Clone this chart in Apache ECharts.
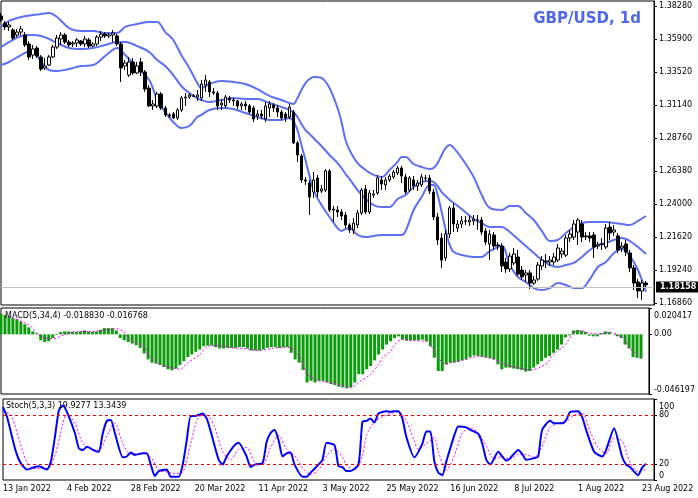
<!DOCTYPE html>
<html>
<head>
<meta charset="utf-8">
<script src="https://cdn.jsdelivr.net/npm/echarts@6/dist/echarts.min.js"></script>
<style>
html,body{margin:0;padding:0;background:#fff;}
#chart{width:698px;height:498px;}
</style>
</head>
<body>
<div id="chart"></div>
<script>
// ---------- DATA ----------
const tickLabels = ['13 Jan 2022','4 Feb 2022','28 Feb 2022','20 Mar 2022','11 Apr 2022','3 May 2022','25 May 2022','16 Jun 2022','8 Jul 2022','1 Aug 2022','23 Aug 2022'];
const priceTicks = [1.16860,1.19240,1.21620,1.24000,1.26380,1.28760,1.31140,1.33520,1.35900,1.38280];
const lastPrice = 1.18158;
const macdTicks = [-0.046197, 0, 0.020417];
const stochTicks = [0, 20, 80, 100];
const stochLevels = [20, 80];

const opens = [
1.3756,1.3705,1.3677,1.3655,1.3619,1.3640,1.3619,1.3554,1.3474,1.3525,
1.3460,1.3381,1.3402,1.3460,1.3532,1.3590,1.3619,1.3568,1.3554,1.3561,
1.3575,1.3554,1.3583,1.3539,1.3554,1.3604,1.3626,1.3612,1.3619,1.3612,
1.3554,1.3395,1.3330,1.3424,1.3345,1.3424,1.3352,1.3236,1.3107,1.3107,
1.3193,1.3092,1.3042,1.3049,1.3020,1.3078,1.3164,1.3171,1.3179,1.3171,
1.3164,1.3258,1.3280,1.3208,1.3200,1.3114,1.3107,1.3164,1.3150,1.3143,
1.3107,1.3121,1.3107,1.3092,1.3034,1.3049,1.3013,1.3092,1.3114,1.3092,
1.3063,1.3049,1.3027,1.3063,1.2840,1.2746,1.2573,1.2551,1.2486,1.2587,
1.2493,1.2500,1.2638,1.2356,1.2356,1.2342,1.2320,1.2248,1.2212,1.2248,
1.2335,1.2508,1.2342,1.2464,1.2479,1.2573,1.2537,1.2573,1.2594,1.2623,
1.2659,1.2594,1.2500,1.2573,1.2529,1.2537,1.2587,1.2587,1.2486,1.2306,
1.2154,1.2010,1.2183,1.2371,1.2226,1.2255,1.2277,1.2270,1.2277,1.2284,
1.2284,1.2205,1.2111,1.2176,1.2104,1.2096,1.1981,1.1931,1.1974,1.2017,
1.1923,1.1887,1.1902,1.1829,1.1858,1.1952,1.1988,1.1981,1.1981,1.1995,
1.2039,1.2031,1.2154,1.2161,1.2197,1.2255,1.2169,1.2169,1.2176,1.2096,
1.2111,1.2089,1.2233,1.2197,1.2169,1.2082,1.2111,1.2046,1.1938,1.1837,
1.1772,1.1829];
const closes = [
1.3727,1.3677,1.3691,1.3597,1.3640,1.3662,1.3547,1.3460,1.3518,1.3467,
1.3373,1.3395,1.3460,1.3532,1.3597,1.3619,1.3568,1.3547,1.3561,1.3583,
1.3554,1.3590,1.3539,1.3554,1.3604,1.3626,1.3612,1.3619,1.3633,1.3554,
1.3381,1.3417,1.3424,1.3345,1.3395,1.3352,1.3229,1.3107,1.3121,1.3193,
1.3092,1.3042,1.3034,1.3020,1.3078,1.3164,1.3171,1.3186,1.3177,1.3186,
1.3265,1.3294,1.3208,1.3200,1.3107,1.3128,1.3171,1.3150,1.3143,1.3107,
1.3121,1.3107,1.3063,1.3013,1.3049,1.3034,1.3107,1.3121,1.3092,1.3063,
1.3020,1.3020,1.3099,1.2840,1.2753,1.2573,1.2565,1.2450,1.2573,1.2486,
1.2508,1.2638,1.2356,1.2363,1.2342,1.2313,1.2248,1.2212,1.2262,1.2335,
1.2500,1.2342,1.2479,1.2472,1.2587,1.2544,1.2573,1.2601,1.2630,1.2659,
1.2601,1.2486,1.2587,1.2529,1.2551,1.2594,1.2585,1.2493,1.2306,1.2140,
1.1995,1.2183,1.2371,1.2255,1.2255,1.2277,1.2275,1.2284,1.2291,1.2282,
1.2197,1.2125,1.2183,1.2096,1.2098,1.1952,1.1931,1.2024,1.2039,1.1894,
1.1873,1.1902,1.1829,1.1851,1.1959,1.1995,1.1981,1.1995,1.2017,1.2082,
1.2060,1.2154,1.2183,1.2255,1.2284,1.2161,1.2163,1.2154,1.2089,1.2104,
1.2106,1.2226,1.2190,1.2212,1.2068,1.2096,1.2053,1.1938,1.1829,1.1772,
1.1829,1.18158];
const highs = [
1.3778,1.3720,1.3713,1.3669,1.3662,1.3684,1.3640,1.3575,1.3547,1.3539,
1.3474,1.3453,1.3474,1.3547,1.3619,1.3640,1.3633,1.3583,1.3575,1.3597,
1.3583,1.3612,1.3597,1.3568,1.3619,1.3648,1.3640,1.3633,1.3655,1.3626,
1.3568,1.3438,1.3460,1.3453,1.3424,1.3453,1.3366,1.3258,1.3150,1.3208,
1.3208,1.3107,1.3056,1.3063,1.3092,1.3179,1.3200,1.3200,1.3193,1.3222,
1.3294,1.3330,1.3294,1.3236,1.3215,1.3157,1.3186,1.3179,1.3164,1.3150,
1.3135,1.3143,1.3121,1.3107,1.3078,1.3078,1.3135,1.3143,1.3128,1.3114,
1.3078,1.3063,1.3121,1.3078,1.2854,1.2760,1.2594,1.2573,1.2630,1.2609,
1.2537,1.2652,1.2652,1.2385,1.2385,1.2363,1.2342,1.2262,1.2298,1.2356,
1.2515,1.2537,1.2500,1.2500,1.2609,1.2601,1.2594,1.2616,1.2645,1.2674,
1.2674,1.2616,1.2601,1.2601,1.2573,1.2616,1.2609,1.2609,1.2508,1.2335,
1.2190,1.2212,1.2385,1.2407,1.2284,1.2313,1.2313,1.2313,1.2320,1.2320,
1.2306,1.2226,1.2212,1.2197,1.2125,1.2118,1.2010,1.2046,1.2082,1.2068,
1.1952,1.1923,1.1923,1.1880,1.1981,1.2024,1.2039,1.2024,1.2046,1.2111,
1.2082,1.2176,1.2212,1.2284,1.2298,1.2284,1.2197,1.2197,1.2197,1.2125,
1.2154,1.2255,1.2270,1.2248,1.2190,1.2125,1.2140,1.2068,1.1959,1.1858,
1.1851,1.1844];
const lows = [
1.3713,1.3655,1.3648,1.3583,1.3604,1.3619,1.3532,1.3438,1.3446,1.3453,
1.3359,1.3366,1.3395,1.3453,1.3518,1.3547,1.3554,1.3532,1.3532,1.3532,
1.3539,1.3532,1.3525,1.3532,1.3539,1.3575,1.3597,1.3597,1.3568,1.3539,
1.3280,1.3366,1.3316,1.3330,1.3337,1.3323,1.3208,1.3099,1.3078,1.3092,
1.3078,1.3027,1.3020,1.3013,1.3006,1.3063,1.3107,1.3157,1.3171,1.3143,
1.3143,1.3208,1.3171,1.3186,1.3078,1.3078,1.3092,1.3128,1.3107,1.3085,
1.3078,1.3078,1.3049,1.2991,1.3006,1.3013,1.2991,1.3027,1.3063,1.3027,
1.3006,1.2991,1.3013,1.2832,1.2703,1.2551,1.2537,1.2320,1.2443,1.2450,
1.2479,1.2486,1.2342,1.2270,1.2306,1.2284,1.2226,1.2190,1.2183,1.2226,
1.2320,1.2327,1.2327,1.2443,1.2464,1.2500,1.2500,1.2558,1.2580,1.2609,
1.2551,1.2472,1.2486,1.2500,1.2493,1.2522,1.2565,1.2472,1.2284,1.2104,
1.1938,1.1988,1.2154,1.2197,1.2197,1.2226,1.2248,1.2241,1.2248,1.2212,
1.2176,1.2104,1.1995,1.2068,1.2068,1.1909,1.1902,1.1909,1.1959,1.1880,
1.1851,1.1837,1.1786,1.1815,1.1844,1.1923,1.1938,1.1952,1.1959,1.1981,
1.2010,1.2017,1.2125,1.2140,1.2104,1.2125,1.2140,1.2125,1.2010,1.2075,
1.2068,1.2075,1.2140,1.2169,1.2046,1.2053,1.2024,1.1909,1.1779,1.1721,
1.1707,1.1801];

// Bollinger bands, read at sampled bars: [bar index, price]
const bbUpper = [[0,1.3677],[2,1.3720],[5,1.3749],[8,1.3763],[10,1.3770],[12,1.3778],[14,1.3749],[17,1.3669],[20,1.3648],[23,1.3648],[26,1.3633],[29,1.3633],[31,1.3677],[34,1.3698],[37,1.3713],[39,1.3713],[41,1.3640],[43,1.3583],[45,1.3474],[47,1.3381],[49,1.3272],[50,1.3236],[52,1.3265],[55,1.3287],[58,1.3280],[61,1.3265],[64,1.3229],[67,1.3179],[70,1.3150],[72,1.3128],[73,1.3121],[74,1.3164],[75,1.3222],[76,1.3272],[77,1.3301],[78,1.3316],[80,1.3309],[82,1.3236],[84,1.3092],[85,1.2991],[86,1.2861],[87,1.2789],[89,1.2695],[91,1.2645],[93,1.2609],[95,1.2594],[97,1.2645],[99,1.2703],[100,1.2739],[101,1.2739],[103,1.2688],[105,1.2666],[107,1.2652],[108,1.2659],[109,1.2695],[110,1.2753],[111,1.2804],[112,1.2825],[113,1.2804],[115,1.2731],[118,1.2594],[120,1.2464],[122,1.2371],[125,1.2356],[127,1.2385],[129,1.2385],[131,1.2335],[133,1.2284],[135,1.2205],[137,1.2132],[139,1.2140],[141,1.2190],[143,1.2233],[145,1.2262],[147,1.2270],[149,1.2270],[151,1.2270],[153,1.2262],[155,1.2255],[157,1.2248],[159,1.2277],[161,1.2313]];
const bbMiddle = [[0,1.3532],[2,1.3568],[5,1.3612],[8,1.3619],[10,1.3612],[12,1.3590],[14,1.3561],[17,1.3525],[20,1.3518],[23,1.3525],[26,1.3547],[29,1.3568],[31,1.3568],[34,1.3539],[37,1.3496],[39,1.3438],[41,1.3395],[43,1.3330],[45,1.3251],[47,1.3200],[49,1.3164],[50,1.3150],[52,1.3135],[55,1.3150],[58,1.3164],[61,1.3157],[64,1.3157],[67,1.3128],[70,1.3099],[72,1.3078],[73,1.3063],[74,1.3027],[75,1.2977],[76,1.2933],[77,1.2905],[78,1.2876],[80,1.2818],[82,1.2753],[84,1.2695],[85,1.2659],[86,1.2616],[87,1.2580],[89,1.2500],[91,1.2436],[93,1.2392],[95,1.2378],[97,1.2378],[99,1.2436],[100,1.2450],[101,1.2464],[103,1.2522],[105,1.2558],[107,1.2565],[108,1.2558],[109,1.2529],[110,1.2486],[111,1.2457],[112,1.2428],[113,1.2407],[115,1.2363],[118,1.2291],[120,1.2262],[122,1.2233],[125,1.2233],[127,1.2197],[129,1.2147],[131,1.2096],[133,1.2046],[135,1.1995],[137,1.1959],[139,1.1945],[141,1.1959],[143,1.1974],[145,1.2017],[147,1.2068],[149,1.2104],[151,1.2118],[153,1.2140],[155,1.2154],[157,1.2132],[159,1.2089],[161,1.2039]];
const bbLower = [[0,1.3402],[2,1.3424],[5,1.3474],[8,1.3511],[10,1.3424],[12,1.3366],[14,1.3359],[17,1.3373],[20,1.3395],[23,1.3402],[26,1.3467],[29,1.3525],[31,1.3474],[34,1.3381],[37,1.3294],[39,1.3150],[41,1.3063],[43,1.2991],[45,1.2948],[47,1.2962],[49,1.3027],[50,1.3042],[52,1.3078],[55,1.3092],[58,1.3085],[61,1.3056],[64,1.3027],[67,1.3006],[70,1.3006],[72,1.3020],[73,1.2998],[74,1.2933],[75,1.2825],[76,1.2717],[77,1.2601],[78,1.2500],[80,1.2392],[82,1.2306],[84,1.2226],[85,1.2205],[86,1.2219],[87,1.2226],[89,1.2176],[91,1.2161],[93,1.2169],[95,1.2176],[97,1.2176],[99,1.2176],[100,1.2176],[101,1.2205],[103,1.2356],[105,1.2450],[107,1.2537],[108,1.2537],[109,1.2464],[110,1.2342],[111,1.2212],[112,1.2104],[113,1.2053],[115,1.2031],[118,1.2017],[120,1.2017],[122,1.2060],[125,1.2096],[127,1.1959],[129,1.1873],[131,1.1837],[133,1.1793],[135,1.1779],[137,1.1793],[139,1.1829],[141,1.1815],[143,1.1793],[145,1.1793],[147,1.1858],[149,1.1945],[151,1.1981],[153,1.2046],[155,1.2075],[157,1.2024],[159,1.1923],[161,1.1765]];

const macdHist = [
0.01582,0.01506,0.01378,0.01250,0.01174,0.00995,0.00791,0.00536,0.00230,0.00077,
-0.00459,-0.00587,-0.00536,-0.00281,-0.00051,0.00179,0.00230,0.00230,0.00204,0.00179,
0.00230,0.00306,0.00230,0.00204,0.00230,0.00357,0.00485,0.00485,0.00485,0.00306,
-0.00281,-0.00459,-0.00587,-0.00715,-0.00842,-0.01046,-0.01480,-0.01940,-0.02195,-0.02271,
-0.02373,-0.02526,-0.02705,-0.02782,-0.02654,-0.02373,-0.02067,-0.01761,-0.01557,-0.01353,
-0.01174,-0.00919,-0.00868,-0.00868,-0.00995,-0.01097,-0.01097,-0.01046,-0.01046,-0.01046,
-0.00995,-0.00995,-0.01097,-0.01250,-0.01250,-0.01250,-0.01174,-0.01046,-0.00995,-0.00995,
-0.01046,-0.00995,-0.00995,-0.01429,-0.01940,-0.02195,-0.02756,-0.03726,-0.03598,-0.03726,
-0.03598,-0.03598,-0.03726,-0.03854,-0.03930,-0.04058,-0.04109,-0.04185,-0.04109,-0.03726,
-0.03088,-0.03088,-0.02705,-0.02450,-0.02016,-0.01557,-0.01174,-0.00791,-0.00536,-0.00281,
-0.00153,-0.00408,-0.00485,-0.00485,-0.00459,-0.00459,-0.00408,-0.00536,-0.00919,-0.01812,
-0.02833,-0.02833,-0.02322,-0.02195,-0.02195,-0.02144,-0.02016,-0.01940,-0.01761,-0.01633,
-0.01684,-0.01761,-0.01812,-0.01863,-0.01940,-0.02322,-0.02705,-0.02578,-0.02578,-0.02654,
-0.02705,-0.02756,-0.02884,-0.02833,-0.02578,-0.02322,-0.02067,-0.01812,-0.01684,-0.01429,
-0.01174,-0.00791,-0.00230,-0.00077,0.00306,0.00332,0.00281,0.00179,-0.00102,-0.00153,
-0.00153,0.00102,0.00230,0.00179,0.00026,-0.00153,-0.00281,-0.00791,-0.01097,-0.01761,
-0.01812,-0.01883];
const macdSignal = [[1,0.01506],[7,0.00740],[9,0.00102],[11,-0.00281],[13,-0.00332],[16,-0.00026],[18,0.00179],[23,0.00230],[27,0.00357],[29,0.00434],[31,0.00179],[32,-0.00281],[34,-0.00664],[36,-0.00919],[37,-0.01557],[39,-0.02118],[41,-0.02450],[44,-0.02654],[45,-0.02705],[47,-0.02195],[50,-0.01557],[52,-0.00919],[55,-0.00868],[58,-0.01046],[61,-0.01097],[65,-0.01250],[68,-0.01097],[71,-0.00995],[73,-0.01046],[75,-0.01684],[76,-0.02322],[77,-0.03088],[80,-0.03598],[83,-0.03726],[86,-0.03981],[88,-0.04109],[90,-0.03700],[93,-0.03090],[95,-0.02320],[96,-0.01810],[98,-0.01300],[99,-0.00800],[101,-0.00400],[103,-0.00485],[107,-0.00536],[108,-0.00791],[110,-0.01812],[112,-0.02322],[114,-0.02118],[117,-0.01940],[120,-0.01684],[123,-0.01812],[126,-0.02195],[128,-0.02450],[132,-0.02705],[133,-0.02782],[137,-0.02322],[139,-0.01557],[142,-0.00791],[144,0.00102],[146,0.00281],[148,0.00102],[151,0.00026],[153,0.00179],[155,-0.00026],[157,-0.00408],[158,-0.01046],[160,-0.01557],[161,-0.016768]];

const stochMain = [[0,90],[1,78],[3,39],[4,25],[5,17],[6,13],[8,16],[9,17],[11,13],[12,23],[13,53],[14,86],[15,92],[16,84],[18,58],[19,39],[20,37],[21,41],[23,36],[24,35],[25,58],[26,73],[27,74],[28,58],[30,28],[31,29],[32,34],[33,31],[35,33],[36,33],[37,19],[38,5],[39,11],[41,13],[42,4],[44,4],[45,19],[46,49],[47,79],[48,79],[50,82],[51,76],[52,60],[54,25],[55,19],[56,29],[58,43],[59,46],[61,29],[62,16],[63,19],[65,21],[66,47],[67,58],[68,62],[69,49],[70,29],[71,33],[72,34],[73,19],[75,4],[76,4],[77,9],[79,19],[80,25],[81,46],[83,43],[84,17],[85,16],[86,11],[87,11],[89,19],[90,72],[91,73],[92,76],[93,71],[94,82],[96,85],[97,84],[98,85],[99,85],[100,76],[101,53],[103,28],[105,45],[106,60],[107,60],[108,23],[109,9],[110,6],[111,23],[113,55],[114,66],[116,65],[117,62],[119,57],[120,45],[121,25],[122,19],[124,35],[125,29],[126,24],[127,27],[129,37],[130,32],[131,25],[133,27],[134,29],[135,62],[137,73],[138,70],[140,70],[141,74],[142,84],[144,85],[145,78],[146,62],[148,35],[150,29],[151,37],[153,64],[155,29],[156,19],[157,16],[159,6],[160,15],[161,19.9277]];
const stochSignal = [[0,85],[2,80],[4,50],[6,22],[8,14],[11,14],[13,30],[15,70],[16,82],[18,70],[20,45],[22,38],[24,37],[26,55],[28,70],[30,45],[32,32],[35,33],[37,28],[39,12],[41,10],[43,8],[45,10],[47,45],[49,78],[51,80],[53,65],[55,35],[57,25],[59,38],[61,40],[63,22],[65,19],[67,40],[69,55],[71,38],[73,30],[75,15],[77,7],[79,12],[81,30],[83,38],[85,28],[86,18],[88,12],[90,30],[91,55],[93,72],[95,78],[97,82],[99,84],[101,73],[103,48],[104,38],[106,45],[108,52],[109,35],[111,12],[113,30],[115,58],[117,64],[119,58],[121,42],[123,26],[125,29],[127,26],[129,32],[131,31],[133,28],[135,42],[137,65],[139,70],[141,72],[143,80],[145,82],[147,60],[149,40],[151,33],[153,52],[155,48],[157,22],[159,10],[161,13.3439]];

// ---------- CHART ----------
const NCAT = 164; // 162 bars + right shift
const categories = Array.from({length: NCAT}, (_, i) => String(i));
const FONT = 'DejaVu Sans';
const bandColor = '#5b70f2';

const chart = echarts.init(document.getElementById('chart'), null, {renderer: 'canvas'});

const gridW = 653;
const grids = [
  {left: 1, top: 1, width: gridW, height: 304},
  {left: 1, top: 308, width: gridW, height: 86},
  {left: 1, top: 399, width: gridW, height: 81}
];

function xAxisFor(idx, showLabels) {
  return {
    type: 'category', gridIndex: idx, data: categories, boundaryGap: false,
    axisLine: {show: false},
    axisTick: {show: false},
    axisLabel: showLabels ? {
      show: true, interval: (i) => i % 16 === 0, align: 'left', margin: 5,
      fontFamily: FONT, fontSize: 8, color: '#000',
      formatter: (v, i) => (i % 16 === 0 && tickLabels[i / 16]) ? tickLabels[i / 16] : ''
    } : {show: false},
    splitLine: {show: false}
  };
}

function yAxisFor(idx, min, max, ticks, fmt, edgeAlign) {
  const lbl = {
    show: true, customValues: ticks, margin: 5, fontFamily: FONT, fontSize: 8, color: '#000',
    formatter: fmt,
    rich: {dn: {fontFamily: FONT, fontSize: 8, color: '#000', padding: [4, 0, 0, 0]}}
  };
  if (edgeAlign) {
    lbl.verticalAlignMaxLabel = 'top';
    lbl.verticalAlignMinLabel = 'bottom';
  }
  return {
    type: 'value', gridIndex: idx, position: 'right', min: min, max: max, scale: true,
    axisLine: {show: true, lineStyle: {color: '#000', width: 1}},
    axisTick: {show: true, length: 3, customValues: ticks, lineStyle: {color: '#000'}},
    axisLabel: lbl,
    splitLine: {show: false}
  };
}

const candleData = opens.map((o, i) => [o, closes[i], lows[i], highs[i]]);

const option = {
  animation: false,
  backgroundColor: '#ffffff',
  grid: grids.map(g => Object.assign({show: true, borderColor: '#000', borderWidth: 1, backgroundColor: '#fff'}, g)),
  xAxis: [xAxisFor(0, false), xAxisFor(1, false), xAxisFor(2, true)],
  yAxis: [
    yAxisFor(0, 1.16707, 1.38641, priceTicks, v => v.toFixed(5), false),
    yAxisFor(1, -0.046197, 0.020417, macdTicks,
      v => (Math.abs(v) < 1e-9 ? '0.00' : (v > 0 ? '{dn|' + v.toFixed(6) + '}' : v.toFixed(6))), true),
    yAxisFor(2, 0, 100, stochTicks, v => (v === 100 ? '{dn|100}' : String(v)), true)
  ],
  series: [
    {
      type: 'candlestick', xAxisIndex: 0, yAxisIndex: 0, data: candleData,
      barWidth: 3,
      itemStyle: {color: '#ffffff', color0: '#000000', borderColor: '#000000', borderColor0: '#000000', borderWidth: 1},
      markLine: {
        silent: true, symbol: 'none', animation: false,
        lineStyle: {color: '#c0c0c0', type: 'solid', width: 1},
        label: {
          show: true, position: 'end', distance: 2, formatter: lastPrice.toFixed(5),
          backgroundColor: '#000', color: '#fff', fontFamily: FONT, fontSize: 8, fontWeight: 'bold', padding: [2, 4, 1, 4]
        },
        data: [{yAxis: lastPrice}]
      },
      z: 3
    },
    {type: 'line', xAxisIndex: 0, yAxisIndex: 0, data: bbUpper, smooth: 0.35, symbol: 'none', lineStyle: {color: bandColor, width: 2}, z: 2},
    {type: 'line', xAxisIndex: 0, yAxisIndex: 0, data: bbMiddle, smooth: 0.35, symbol: 'none', lineStyle: {color: bandColor, width: 2}, z: 2},
    {type: 'line', xAxisIndex: 0, yAxisIndex: 0, data: bbLower, smooth: 0.35, symbol: 'none', lineStyle: {color: bandColor, width: 2}, z: 2},
    {type: 'bar', xAxisIndex: 1, yAxisIndex: 1, data: macdHist, barWidth: 3, itemStyle: {color: '#0a9c0a'}},
    {type: 'line', xAxisIndex: 1, yAxisIndex: 1, data: macdSignal, smooth: 0.3, symbol: 'none', lineStyle: {color: '#ff00ff', width: 1, type: [2, 2]}, z: 3},
    {type: 'line', xAxisIndex: 2, yAxisIndex: 2, data: stochSignal, smooth: 0.3, symbol: 'none', lineStyle: {color: '#ff00ff', width: 1, type: [2, 2]}, z: 2,
      markLine: {
        silent: true, symbol: 'none', animation: false, label: {show: false},
        lineStyle: {color: '#ff0000', type: [3, 3], width: 1},
        data: stochLevels.map(v => ({yAxis: v}))
      }
    },
    {type: 'line', xAxisIndex: 2, yAxisIndex: 2, data: stochMain, smooth: 0.2, symbol: 'none', lineStyle: {color: '#0000ff', width: 2}, z: 3}
  ],
  graphic: [
    {type: 'text', right: 57, top: 12, z: 10, style: {text: 'GBP/USD, 1d', font: 'bold 15px "DejaVu Sans"', fill: '#4d68ea'}},
    {type: 'text', left: 5, top: 312, z: 10, style: {text: 'MACD(5,34,4) -0.018830 -0.016768', font: '8px "DejaVu Sans"', fill: '#000'}},
    {type: 'text', left: 6, top: 402, z: 10, style: {text: 'Stoch(5,3,3) 19.9277 13.3439', font: '8px "DejaVu Sans"', fill: '#000'}}
  ]
};
chart.setOption(option);
</script>
</body>
</html>
